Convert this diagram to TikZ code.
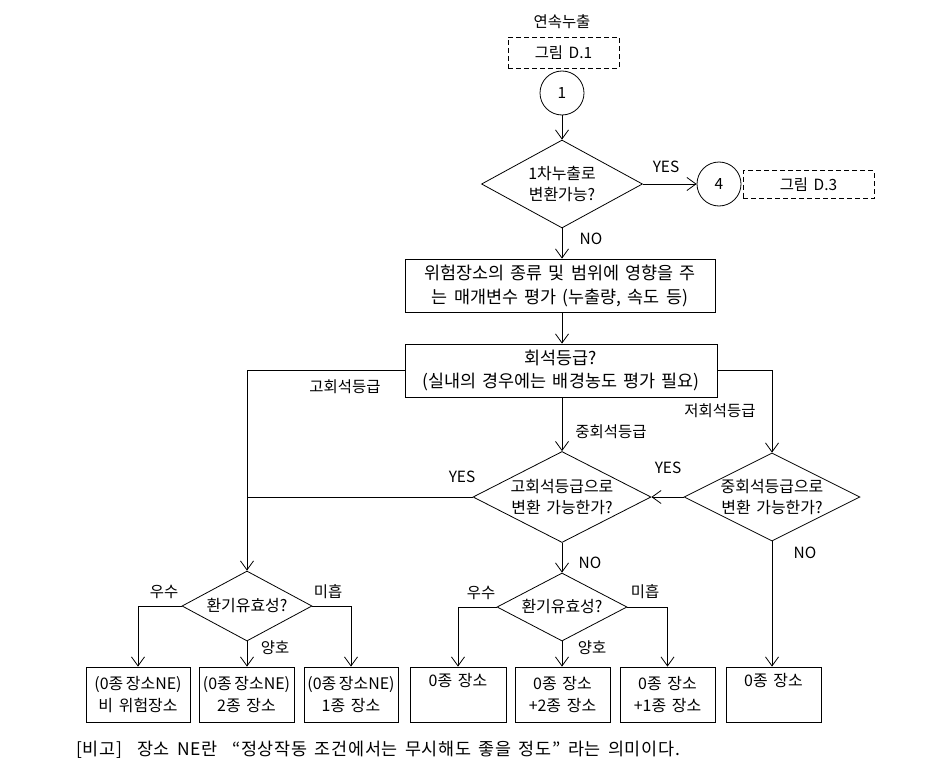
\documentclass[tikz,border=0pt]{standalone}
\usepackage{fontspec}
\setmainfont{Noto Sans CJK KR}[WordSpace=1.6]
\usetikzlibrary{shapes.geometric,arrows.meta}
\tikzset{
  box/.style={draw, inner sep=0pt, align=center, font=\fontsize{17.5}{24}\selectfont},
  rbox/.style={draw, inner sep=0pt, align=center, font=\fontsize{16}{23}\selectfont},
  dbox/.style={draw, dash pattern=on 5bp off 3bp, inner sep=0pt},
  dia/.style={draw, diamond, inner sep=0pt},
  circ/.style={draw, circle, inner sep=0pt, minimum size=44bp},
  tag/.style={inner sep=0pt, align=center},
  dtag/.style={inner sep=0pt, align=center, font=\fontsize{16}{21}\selectfont},
}
\begin{document}
\begin{tikzpicture}[x=1bp,y=-1bp,line width=0.8bp,
    font=\fontsize{15.5}{21}\selectfont,
    >={Straight Barb[length=9bp,width=13bp]}]
  \useasboundingbox (0,0) rectangle (929,777);
  % top part
  \node[tag] (leak) at (562,22) {연속누출};
  \node[dbox, minimum width=111bp, minimum height=31bp] (fig1) at (563.5,52.5) {그림 D.1};
  \node[circ] (c1) at (562,93) {1};
  \node[dia, minimum width=161bp, minimum height=88bp,
    label={[dtag]center:1차누출로\\변환가능?}] (q1) at (562,184) {};
  \node[circ] (c4) at (719,184) {4};
  \node[dbox, minimum width=131bp, minimum height=28bp] (fig3) at (808.5,184.5) {그림 D.3};
  \node[box, minimum width=310bp, minimum height=53bp] (eval) at (560,285.5)
    {위험장소의 종류 및 범위에 영향을 주\\는 매개변수 평가 (누출량, 속도 등)};
  \node[box, minimum width=312bp, minimum height=53bp] (grade) at (561,370.5)
    {회석등급?\\(실내의 경우에는 배경농도 평가 필요)};
  % decisions
  \node[dia, minimum width=178bp, minimum height=91bp,
    label={[dtag]center:고회석등급으로\\변환 가능한가?}] (q2) at (562,497) {};
  \node[dia, minimum width=176bp, minimum height=88bp,
    label={[dtag]center:중회석등급으로\\변환 가능한가?}] (q3) at (772,497) {};
  \node[dia, minimum width=130bp, minimum height=70bp,
    label={[dtag]center:환기유효성?}] (q4) at (247,606) {};
  \node[dia, minimum width=130bp, minimum height=68bp,
    label={[dtag]center:환기유효성?}] (q5) at (562,607) {};
  % results
  \node[rbox, minimum width=104bp, minimum height=55bp] (bA) at (138,694.5) {(0종\,장소NE)\\비 위험장소};
  \node[rbox, minimum width=95bp, minimum height=55bp] (bB) at (246.5,694.5) {(0종\,장소NE)\\2종 장소};
  \node[rbox, minimum width=94bp, minimum height=55bp] (bC) at (351,694.5) {(0종\,장소NE)\\1종 장소};
  \node[rbox, minimum width=96bp, minimum height=55bp] (bD) at (458,694.5) {0종 장소\\\strut};
  \node[rbox, minimum width=95bp, minimum height=55bp] (bE) at (562.5,694.5) {0종 장소\\+2종 장소};
  \node[rbox, minimum width=95bp, minimum height=55bp] (bF) at (667.5,694.5) {0종 장소\\+1종 장소};
  \node[rbox, minimum width=95bp, minimum height=55bp] (bG) at (773.5,694.5) {0종 장소\\\strut};
  \node[tag, anchor=west, font=\fontsize{17.5}{20}\selectfont\addfontfeature{LetterSpace=4}] (note) at (76,750)
    {[비고]\ \ 장소 NE란\ \ “정상작동 조건에서는 무시해도 좋을 정도”\ 라는 의미이다.};
  % connectors
  \draw[->] (c1) -- (q1);
  \draw[->] (q1) -- (c4);
  \draw[->] (q1) -- (q1.south |- eval.north);
  \draw[->] (eval.south -| q1) -- (grade.north -| q1);
  \draw[->] (grade.west) -| (q4.north);
  \draw[->] (grade.south -| q2) -- (q2.north);
  \draw[->] (grade.east) -| (q3.north);
  \draw[->] (q3) -- (q2);
  \draw (q2.west) -- (q2.west -| q4);
  \draw[->] (q2) -- (q5);
  \draw[->] (q3.south) -- (q3.south |- bG.north);
  \draw[->] (q4.west) -| (bA.north);
  \draw[->] (q4) -- (q4.south |- bB.north);
  \draw[->] (q4.east) -| (bC.north);
  \draw[->] (q5.west) -| (bD.north);
  \draw[->] (q5) -- (q5.south |- bE.north);
  \draw[->] (q5.east) -| (bF.north);
  % branch labels
  \node[tag] (yes1) at (666,167) {YES};
  \node[tag] (no1) at (591,239) {NO};
  \node[tag] (hi) at (345,387) {고회석등급};
  \node[tag] (mid) at (611,432) {중회석등급};
  \node[tag] (lo) at (720,411) {저회석등급};
  \node[tag] (yes2) at (462,477) {YES};
  \node[tag] (yes3) at (668,468) {YES};
  \node[tag] (no2) at (590,563) {NO};
  \node[tag] (no3) at (805,553) {NO};
  \node[tag] (goodA) at (164,592) {우수};
  \node[tag] (poorA) at (328,592) {미흡};
  \node[tag] (fairA) at (275,648) {양호};
  \node[tag] (goodB) at (481,593) {우수};
  \node[tag] (poorB) at (645,592) {미흡};
  \node[tag] (fairB) at (592,648) {양호};
\end{tikzpicture}
\end{document}
